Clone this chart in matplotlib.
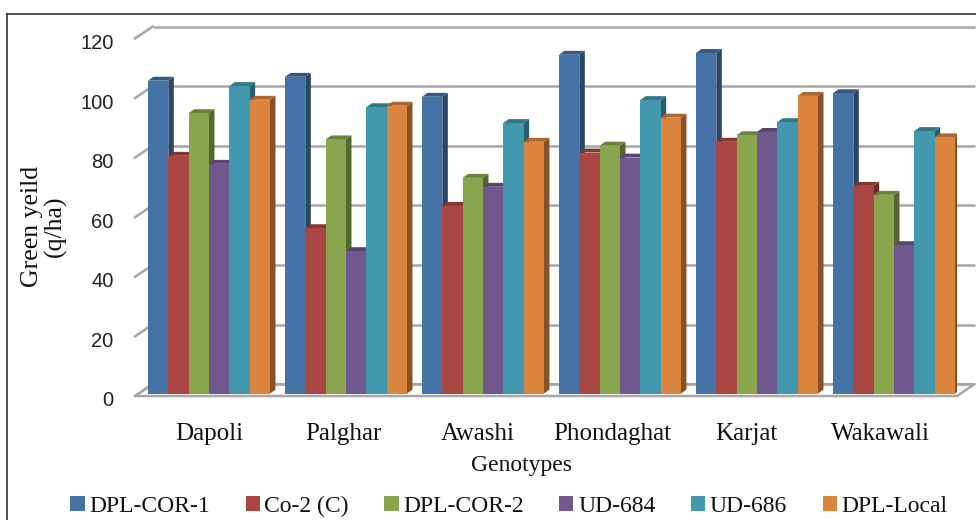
import numpy as np
import matplotlib
matplotlib.use("Agg")
import matplotlib.pyplot as plt
import matplotlib.colors as mcolors
from matplotlib.patches import Polygon, Patch
from matplotlib.lines import Line2D

# ---------------- data ----------------
locations = ["Dapoli", "Palghar", "Awashi", "Phondaghat", "Karjat", "Wakawali"]
series_names = ["DPL-COR-1", "Co-2 (C)", "DPL-COR-2", "UD-684", "UD-686", "DPL-Local"]
dpl_cor_1 = [105.0, 106.3, 99.6, 113.7, 114.3, 100.8]
co_2_c = [79.8, 55.5, 63.0, 80.9, 84.5, 69.7]
dpl_cor_2 = [94.1, 85.3, 72.4, 83.2, 86.7, 66.7]
ud_684 = [77.1, 47.8, 69.4, 79.2, 87.8, 49.8]
ud_686 = [103.2, 96.1, 90.8, 98.5, 91.1, 88.1]
dpl_local = [98.6, 96.6, 84.5, 92.6, 99.9, 86.0]
y_ticks = [0, 20, 40, 60, 80, 100, 120]

series_values = [dpl_cor_1, co_2_c, dpl_cor_2, ud_684, ud_686, dpl_local]
front_colors = ["#4572A7", "#AA4643", "#89A54E", "#71588F", "#4198AF", "#DB843D"]

def shade(c, f):
    r, g, b = mcolors.to_rgb(c)
    return (r * f, g * f, b * f)

# ---------------- figure ----------------
W, H = 976, 520
fig = plt.figure(figsize=(W / 100, H / 100), dpi=100)
fig.patch.set_facecolor("white")

ax_left_px, ax_right_px = 135, 957
ax_bottom_px, ax_top_px = 399, 36
ax = fig.add_axes([ax_left_px / W, (H - ax_bottom_px) / H,
                   (ax_right_px - ax_left_px) / W, (ax_bottom_px - ax_top_px) / H])
x_lo, x_hi = -0.540, 5.460
ax.set_xlim(x_lo, x_hi)
ax.set_ylim(0, 120)
for s in ax.spines.values():
    s.set_visible(False)
ax.set_facecolor("none")

px_x = (ax_right_px - ax_left_px) / (x_hi - x_lo)   # px per x unit
px_y = (ax_bottom_px - ax_top_px) / 120.0           # px per y unit

# wall depth offsets (data units)
wall_dx = 17.5 / px_x
wall_dy = 12.0 / px_y
floor_front = -2.5 / px_y
grid_col = "#A6A6A6"

# floor slab
floor = Polygon([(x_lo, floor_front), (x_hi, floor_front),
                 (x_hi + wall_dx, floor_front + wall_dy), (x_lo + wall_dx, floor_front + wall_dy)],
                closed=True, facecolor="white", edgecolor=grid_col, lw=1.8, zorder=1, clip_on=False)
ax.add_patch(floor)

# back wall gridlines and left-wall diagonal ticks
x_back_right = (975 - ax_left_px) / px_x + x_lo
for v in y_ticks:
    yb = v + floor_front + wall_dy
    ax.add_line(Line2D([x_lo + wall_dx, x_back_right], [yb, yb], color=grid_col, lw=1.8,
                       zorder=1, clip_on=False, solid_capstyle="butt"))
    ax.add_line(Line2D([x_lo, x_lo + wall_dx], [v + floor_front, yb], color=grid_col, lw=1.8,
                       zorder=1, clip_on=False))

# bars with 3D depth
bar_w = 20.33 / px_x
bar_dx = 5.5 / px_x
bar_dy = 4.0 / px_y
n = len(series_values)
for i in range(len(locations)):
    for j in range(n):
        v = series_values[j][i]
        x0 = i + (j - n / 2) * bar_w
        z = 2 + 0.01 * (i * n + j)
        col = front_colors[j]
        side = Polygon([(x0 + bar_w, 0), (x0 + bar_w + bar_dx, bar_dy),
                        (x0 + bar_w + bar_dx, v + bar_dy), (x0 + bar_w, v)],
                       closed=True, facecolor=shade(col, 0.62), edgecolor="none", zorder=z)
        top = Polygon([(x0, v), (x0 + bar_w, v), (x0 + bar_w + bar_dx, v + bar_dy),
                       (x0 + bar_dx, v + bar_dy)],
                      closed=True, facecolor=shade(col, 0.78), edgecolor="none", zorder=z + 0.001)
        ax.add_patch(side)
        ax.add_patch(top)
        ax.bar([x0], [v], width=bar_w, align="edge", color=col, edgecolor="none",
               zorder=z + 0.002)

# y tick labels (front)
ax.set_yticks([v + floor_front - 1.0 for v in y_ticks])
ax.set_yticklabels([str(v) for v in y_ticks], fontfamily="Liberation Sans", fontsize=14.5,
                   color="#222222")
ax.tick_params(axis="y", length=0, pad=15.5)

# category labels
label_step = 0.981
ax.set_xticks([i * label_step for i in range(len(locations))])
ax.set_xticklabels(locations, fontfamily="Liberation Serif", fontsize=18, color="#111111")
ax.tick_params(axis="x", length=0, pad=17)

# axis titles
fig.text(521 / W, 1 - 466 / H, "Genotypes", fontfamily="Liberation Serif", fontsize=17,
         ha="center", va="center", color="#111111")
fig.text(44 / W, 1 - 226 / H, "Green yeild\n(q/ha)", fontfamily="Liberation Serif",
         fontsize=18.5, rotation=90, ha="center", va="center", multialignment="center",
         color="#111111", linespacing=1.05)

# legend
handles = [Patch(facecolor=c, edgecolor="none") for c in front_colors]
leg = fig.legend(handles, series_names, loc="center", bbox_to_anchor=(509 / W, 1 - 506 / H),
                 ncol=6, frameon=False, handlelength=0.6, handleheight=0.6, handletextpad=0.2,
                 columnspacing=1.5, prop={"family": "Liberation Serif", "size": 17})
for t in leg.get_texts():
    t.set_color("#111111")

# outer chart frame (left and top edges visible)
fig.add_artist(Line2D([7 / W, 7 / W], [0, 1 - 14 / H], transform=fig.transFigure,
                      color="#333333", lw=1.2))
fig.add_artist(Line2D([7 / W, 1], [1 - 14 / H, 1 - 14 / H], transform=fig.transFigure,
                      color="#333333", lw=1.2))

fig.savefig("out.png", dpi=100, facecolor="white")
